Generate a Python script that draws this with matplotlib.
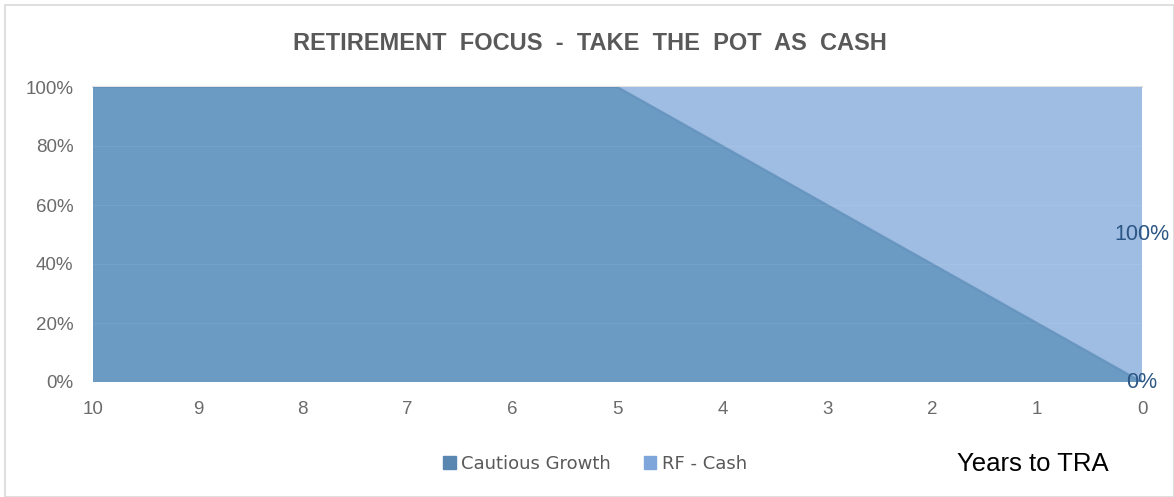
import matplotlib.pyplot as plt
import matplotlib.patches as mpatches
from matplotlib.ticker import FuncFormatter

# years to TRA, counting down
years = [10, 9, 8, 7, 6, 5, 4, 3, 2, 1, 0]
cautious_growth = [100, 100, 100, 100, 100, 100, 80, 60, 40, 20, 0]
rf_cash = [0, 0, 0, 0, 0, 0, 20, 40, 60, 80, 100]
series_names = ['Cautious Growth', 'RF - Cash']
colors = ['#6b9ac3', '#9fbde2']
legend_colors = ['#5a87b2', '#7ea6da']

W, H = 1174, 497
fig = plt.figure(figsize=(W / 100, H / 100), dpi=100)
ax = fig.add_axes([93 / W, 1 - 382 / H, (1142 - 93) / W, (382 - 87) / H])

ax.stackplot(years, cautious_growth, rf_cash, colors=colors, linewidth=0)
# darker edge along the boundary between the two areas
ax.plot(years, cautious_growth, color='#5f8fbb', linewidth=1.5, alpha=0.8)

ax.set_xlim(10, 0)
ax.set_ylim(0, 100)
ax.set_xticks(years)
ax.set_yticks(range(0, 101, 20))
ax.yaxis.set_major_formatter(FuncFormatter(lambda v, p: f'{v:.0f}%'))
for y in range(20, 100, 20):
    ax.axhline(y, color='white', linewidth=0.8, alpha=0.07, zorder=3)

ax.tick_params(length=0, labelsize=13.5, labelcolor='#6b6b6b')
ax.tick_params(axis='x', pad=14)
ax.tick_params(axis='y', pad=14)
for lab in ax.get_xticklabels() + ax.get_yticklabels():
    lab.set_family('Liberation Sans')
for s in ax.spines.values():
    s.set_visible(False)
ax.axhline(100, color='#e2e2e2', linewidth=1.5, zorder=0, clip_on=False)

# data labels on the last point
ax.text(0, rf_cash[-1] / 2 + cautious_growth[-1], f'{rf_cash[-1]}%', ha='center', va='center',
        fontsize=15.5, color='#2c5685', family='Liberation Sans', clip_on=False)
ax.text(0, cautious_growth[-1], f'{cautious_growth[-1]}%', ha='center', va='center',
        fontsize=15.5, color='#2c5685', family='Liberation Sans', clip_on=False)

fig.text(590 / W, 1 - 43 / H, 'RETIREMENT  FOCUS  -  TAKE  THE  POT  AS  CASH', ha='center', va='center',
         fontsize=17, fontweight='bold', color='#595959', family='Liberation Sans')

handles = [mpatches.Patch(color=c) for c in legend_colors]
leg = fig.legend(handles, series_names, loc='center', bbox_to_anchor=(595 / W, 1 - 464 / H),
                 ncol=2, frameon=False, handlelength=0.7, handleheight=0.7,
                 handletextpad=0.3, columnspacing=1.8,
                 prop={'family': 'Liberation Sans Narrow', 'size': 13})
for t in leg.get_texts():
    t.set_color('#595959')

fig.text(1033 / W, 1 - 464 / H, 'Years to TRA', ha='center', va='center',
         fontsize=18.5, color='black', family='Liberation Sans')

fig.add_artist(mpatches.Rectangle((5 / W, 0), 1 - 5 / W, 1 - 5 / H, transform=fig.transFigure,
                                  fill=False, edgecolor='#d9d9d9', linewidth=1.2))

fig.savefig('out.png', dpi=100)
